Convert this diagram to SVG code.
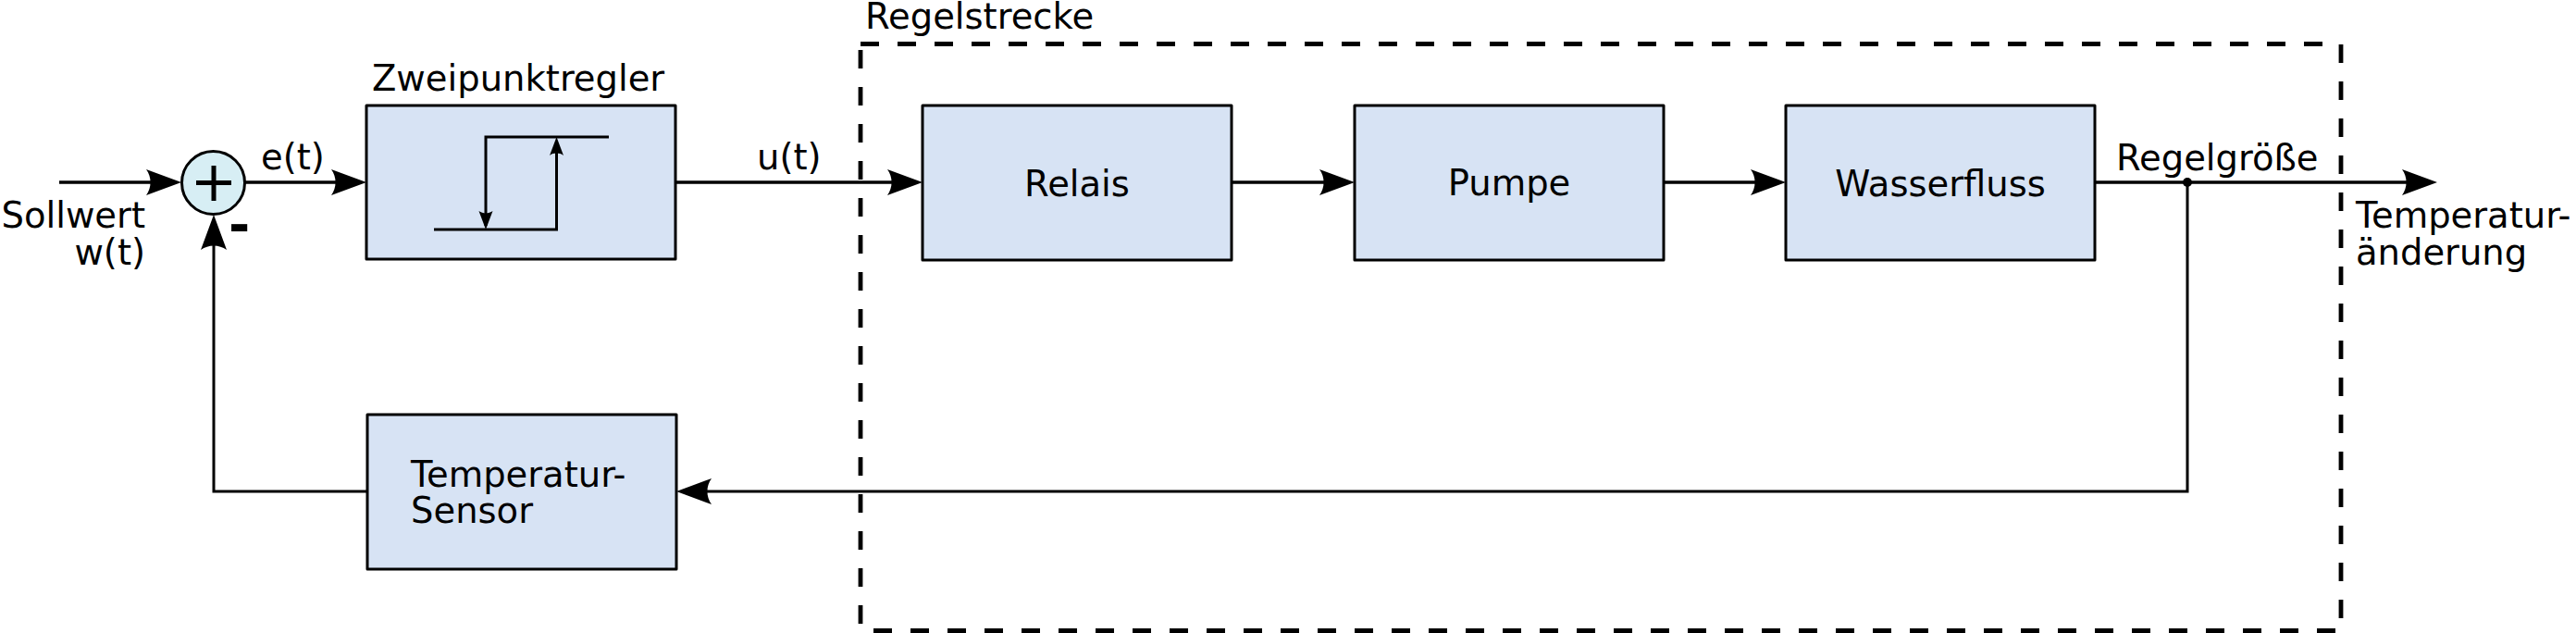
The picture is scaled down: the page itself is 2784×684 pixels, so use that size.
<svg xmlns="http://www.w3.org/2000/svg" width="2784" height="684" viewBox="0 0 2784 684">
<style>
  text { font-family: "DejaVu Sans", "Liberation Sans", sans-serif; font-size: 38.5px; fill: #000; }
  .box { fill: #d7e3f4; stroke: #000; stroke-width: 3; stroke-linejoin: round; }
  .sum { fill: #d7eef4; stroke: #000; stroke-width: 3; }
  .conn { fill: none; stroke: #000; stroke-width: 3.5; }
  .fb { fill: none; stroke: #000; stroke-width: 3; }
  .hys { fill: none; stroke: #000; stroke-width: 3; }
  .dash { fill: none; stroke: #000; stroke-width: 4.8; stroke-dasharray: 20 20; }
  .mid { text-anchor: middle; }
  .end { text-anchor: end; }
</style>
<defs>
  <marker id="arr" viewBox="-40 -15 42 30" refX="-6" refY="0" markerWidth="42" markerHeight="30" markerUnits="userSpaceOnUse" orient="auto">
    <path d="M0,0 L-38,-14 C-31.9,-5.7 -31.9,5.7 -38,14 Z" fill="#000"/>
  </marker>
  <marker id="arrs" viewBox="-22 -9 24 18" refX="-4" refY="0" markerWidth="24" markerHeight="18" markerUnits="userSpaceOnUse" orient="auto">
    <path d="M0,0 L-20,-7.5 C-16.8,-3 -16.8,3 -20,7.5 Z" fill="#000"/>
  </marker>
</defs>

<g id="regelstrecke">
  <line class="dash" x1="930" y1="47.5" x2="2530" y2="47.5"/>
  <line class="dash" x1="930" y1="54" x2="930" y2="684"/>
  <line class="dash" x1="2530" y1="48" x2="2530" y2="684"/>
  <line class="dash" x1="2524" y1="681.5" x2="944" y2="681.5"/>
  <text x="935" y="31">Regelstrecke</text>
</g>

<g id="connectors">
  <path class="conn" d="M64,197 L190,197" marker-end="url(#arr)"/>
  <path class="conn" d="M265,197 L390,197" marker-end="url(#arr)"/>
  <path class="conn" d="M730,197 L991,197" marker-end="url(#arr)"/>
  <path class="conn" d="M1331,197 L1458,197" marker-end="url(#arr)"/>
  <path class="conn" d="M1798,197 L1924,197" marker-end="url(#arr)"/>
  <path class="conn" d="M2264,197 L2628,197" marker-end="url(#arr)"/>
  <path class="fb" d="M2364,197 L2364,531 L737,531" marker-end="url(#arr)"/>
  <path class="fb" d="M396,531 L231,531 L231,238" marker-end="url(#arr)"/>
  <circle cx="2364" cy="197" r="5" fill="#000"/>
</g>

<g id="summierer">
  <circle class="sum" cx="230.5" cy="197.5" r="34"/>
  <path d="M212,197.5 L250,197.5 M231,179 L231,217" stroke="#000" stroke-width="5" fill="none"/>
  <text x="247" y="262" style="font-weight:bold;font-size:56px">-</text>
</g>

<g id="sollwert">
  <text class="end" x="157" y="246">Sollwert</text>
  <text class="end" x="157" y="286">w(t)</text>
</g>

<g id="et"><text x="282" y="183">e(t)</text></g>
<g id="ut"><text x="818" y="183">u(t)</text></g>

<g id="zweipunktregler">
  <rect class="box" x="396" y="114" width="334" height="166"/>
  <path class="hys" d="M658,148 L525,148 L525,244" marker-end="url(#arrs)"/>
  <path class="hys" d="M469,248 L601.5,248 L601.5,152" marker-end="url(#arrs)"/>
  <text x="402" y="98">Zweipunktregler</text>
</g>

<g id="relais">
  <rect class="box" x="997" y="114" width="334" height="167"/>
  <text class="mid" x="1164" y="212">Relais</text>
</g>

<g id="pumpe">
  <rect class="box" x="1464" y="114" width="334" height="167"/>
  <text class="mid" x="1631" y="211">Pumpe</text>
</g>

<g id="wasserfluss">
  <rect class="box" x="1930" y="114" width="334" height="167"/>
  <text class="mid" x="2097" y="212">Wasserfluss</text>
</g>

<g id="regelgroesse">
  <text x="2287" y="184">Regelgröße</text>
</g>

<g id="ausgang">
  <text x="2546" y="246">Temperatur-</text>
  <text x="2546" y="286">änderung</text>
</g>

<g id="sensor">
  <rect class="box" x="397" y="448" width="334" height="167"/>
  <text x="444" y="526">Temperatur-</text>
  <text x="444" y="565">Sensor</text>
</g>
</svg>
